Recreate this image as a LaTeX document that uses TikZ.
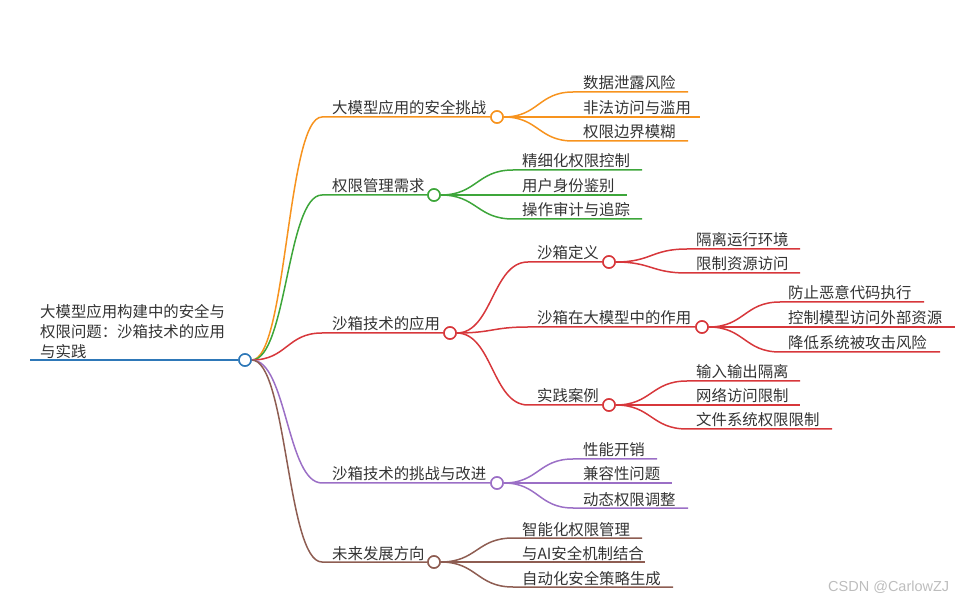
\documentclass[tikz,border=0pt]{standalone}
\usepackage{fontspec}
\setmainfont{Noto Sans CJK SC}
\newfontfamily\wmfont{Liberation Sans}
\usetikzlibrary{calc}
\definecolor{cblue}{HTML}{2E78B8}
\definecolor{corange}{HTML}{F7931E}
\definecolor{cgreen}{HTML}{3DA63A}
\definecolor{cred}{HTML}{D7373B}
\definecolor{cpurple}{HTML}{9B6FC6}
\definecolor{cbrown}{HTML}{8E5D52}
\definecolor{txt}{HTML}{333333}
\definecolor{wm}{HTML}{BDBDBD}
\begin{document}
\begin{tikzpicture}[x=1pt,y=-1pt,
  lbl/.style={anchor=base west, inner sep=0, yshift=-2pt, text=txt, font=\fontsize{15.4}{18}\selectfont},
  dot/.style={circle, draw=#1, fill=white, line width=1.5pt, minimum size=12pt, inner sep=0},
  ln/.style={draw=#1, line width=1.5pt},
  br/.style={to path={.. controls ($(\tikztostart)!0.5!(\tikztostart -| \tikztotarget)$) and ($(\tikztotarget)!0.5!(\tikztotarget -| \tikztostart)$) .. (\tikztotarget)}}
]
\useasboundingbox (0,0) rectangle (967,609);

% ---------- root ----------
\coordinate (r0) at (30,360);
\node[dot=cblue] (c0) at (245,360) {};
\node[anchor=south west, inner sep=0, text=txt, align=left, font=\fontsize{15.4}{20}\selectfont] (root) at (40,358.5)
  {大模型应用构建中的安全与\\权限问题：沙箱技术的应用\\与实践};

% ---------- level 1 ----------
\coordinate (sA) at (322,117);
\node[dot=corange] (cA) at (497,117) {};
\node[lbl] (tA) at (332,112) {大模型应用的安全挑战};
\coordinate (sB) at (322,195);
\node[dot=cgreen] (cB) at (434,195) {};
\node[lbl] (tB) at (332,190) {权限管理需求};
\coordinate (sC) at (322,333);
\node[dot=cred] (cC) at (450,333) {};
\node[lbl] (tC) at (332,328) {沙箱技术的应用};
\coordinate (sD) at (322,483);
\node[dot=cpurple] (cD) at (497,483) {};
\node[lbl] (tD) at (332,478) {沙箱技术的挑战与改进};
\coordinate (sE) at (322,562);
\node[dot=cbrown] (cE) at (434,562) {};
\node[lbl] (tE) at (332,557) {未来发展方向};

% ---------- orange children ----------
\coordinate (sA1) at (573,92);  \coordinate (eA1) at (688,92);
\coordinate (sA2) at (573,117); \coordinate (eA2) at (700,117);
\coordinate (sA3) at (573,141); \coordinate (eA3) at (688,141);
\node[lbl] (tA1) at (583,87)  {数据泄露风险};
\node[lbl] (tA2) at (583,112) {非法访问与滥用};
\node[lbl] (tA3) at (583,136) {权限边界模糊};

% ---------- green children ----------
\coordinate (sB1) at (513,170); \coordinate (eB1) at (642,170);
\coordinate (sB2) at (513,195); \coordinate (eB2) at (627,195);
\coordinate (sB3) at (513,219); \coordinate (eB3) at (642,219);
\node[lbl] (tB1) at (522,165) {精细化权限控制};
\node[lbl] (tB2) at (522,190) {用户身份鉴别};
\node[lbl] (tB3) at (522,214) {操作审计与追踪};

% ---------- red sub-branches ----------
\coordinate (sC1) at (528,262);
\node[dot=cred] (cC1) at (609,262) {};
\node[lbl] (tC1) at (537,257) {沙箱定义};
\coordinate (sC2) at (528,327);
\node[dot=cred] (cC2) at (702,327) {};
\node[lbl] (tC2) at (537,322) {沙箱在大模型中的作用};
\coordinate (sC3) at (528,405);
\node[dot=cred] (cC3) at (609,405) {};
\node[lbl] (tC3) at (537,400) {实践案例};

\coordinate (sC11) at (687,249); \coordinate (eC11) at (800,249);
\coordinate (sC12) at (687,273); \coordinate (eC12) at (800,273);
\node[lbl] (tC11) at (696,244) {隔离运行环境};
\node[lbl] (tC12) at (696,268) {限制资源访问};

\coordinate (sC21) at (780,302); \coordinate (eC21) at (924,302);
\coordinate (sC22) at (780,327); \coordinate (eC22) at (955,327);
\coordinate (sC23) at (780,352); \coordinate (eC23) at (940,352);
\node[lbl] (tC21) at (788,297) {防止恶意代码执行};
\node[lbl] (tC22) at (788,322) {控制模型访问外部资源};
\node[lbl] (tC23) at (788,347) {降低系统被攻击风险};

\coordinate (sC31) at (687,381); \coordinate (eC31) at (800,381);
\coordinate (sC32) at (687,405); \coordinate (eC32) at (800,405);
\coordinate (sC33) at (687,429); \coordinate (eC33) at (832,429);
\node[lbl] (tC31) at (696,376) {输入输出隔离};
\node[lbl] (tC32) at (696,400) {网络访问限制};
\node[lbl] (tC33) at (696,424) {文件系统权限限制};

% ---------- purple children ----------
\coordinate (sD1) at (573,459); \coordinate (eD1) at (657,459);
\coordinate (sD2) at (573,483); \coordinate (eD2) at (672,483);
\coordinate (sD3) at (573,508); \coordinate (eD3) at (688,508);
\node[lbl] (tD1) at (583,454) {性能开销};
\node[lbl] (tD2) at (583,478) {兼容性问题};
\node[lbl] (tD3) at (583,503) {动态权限调整};

% ---------- brown children ----------
\coordinate (sE1) at (513,538); \coordinate (eE1) at (642,538);
\coordinate (sE2) at (513,562); \coordinate (eE2) at (645,562);
\coordinate (sE3) at (513,587); \coordinate (eE3) at (673,587);
\node[lbl] (tE1) at (522,533) {智能化权限管理};
\node[lbl] (tE2) at (522,557) {与AI安全机制结合};
\node[lbl] (tE3) at (522,582) {自动化安全策略生成};

% ---------- connectors ----------
\draw[cblue, line width=2.5pt] (r0) -- (c0.west);

\draw[ln=corange] (c0.east) to[br] (sA) -- (cA.west);
\draw[ln=cgreen]  (c0.east) to[br] (sB) -- (cB.west);
\draw[ln=cred]    (c0.east) to[br] (sC) -- (cC.west);
\draw[ln=cpurple] (c0.east) to[br] (sD) -- (cD.west);
\draw[ln=cbrown]  (c0.east) to[br] (sE) -- (cE.west);

\draw[ln=corange] (cA.east) to[br] (sA1) -- (eA1);
\draw[ln=corange] (cA.east) to[br] (sA2) -- (eA2);
\draw[ln=corange] (cA.east) to[br] (sA3) -- (eA3);

\draw[ln=cgreen] (cB.east) to[br] (sB1) -- (eB1);
\draw[ln=cgreen] (cB.east) to[br] (sB2) -- (eB2);
\draw[ln=cgreen] (cB.east) to[br] (sB3) -- (eB3);

\draw[ln=cred] (cC.east) to[br] (sC1) -- (cC1.west);
\draw[ln=cred] (cC.east) to[br] (sC2) -- (cC2.west);
\draw[ln=cred] (cC.east) to[br] (sC3) -- (cC3.west);

\draw[ln=cred] (cC1.east) to[br] (sC11) -- (eC11);
\draw[ln=cred] (cC1.east) to[br] (sC12) -- (eC12);
\draw[ln=cred] (cC2.east) to[br] (sC21) -- (eC21);
\draw[ln=cred] (cC2.east) to[br] (sC22) -- (eC22);
\draw[ln=cred] (cC2.east) to[br] (sC23) -- (eC23);
\draw[ln=cred] (cC3.east) to[br] (sC31) -- (eC31);
\draw[ln=cred] (cC3.east) to[br] (sC32) -- (eC32);
\draw[ln=cred] (cC3.east) to[br] (sC33) -- (eC33);

\draw[ln=cpurple] (cD.east) to[br] (sD1) -- (eD1);
\draw[ln=cpurple] (cD.east) to[br] (sD2) -- (eD2);
\draw[ln=cpurple] (cD.east) to[br] (sD3) -- (eD3);

\draw[ln=cbrown] (cE.east) to[br] (sE1) -- (eE1);
\draw[ln=cbrown] (cE.east) to[br] (sE2) -- (eE2);
\draw[ln=cbrown] (cE.east) to[br] (sE3) -- (eE3);

% circles on top of the connectors
\foreach \n/\c in {c0/cblue,cA/corange,cB/cgreen,cC/cred,cD/cpurple,cE/cbrown,cC1/cred,cC2/cred,cC3/cred}
  \draw[\c, fill=white, line width=1.5pt] (\n) circle (6pt);

% watermark
\node[anchor=base west, inner sep=0, text=wm, font=\wmfont\fontsize{14.5}{16}\selectfont] (wmk) at (828,591) {CSDN @CarlowZJ};
\end{tikzpicture}
\end{document}
